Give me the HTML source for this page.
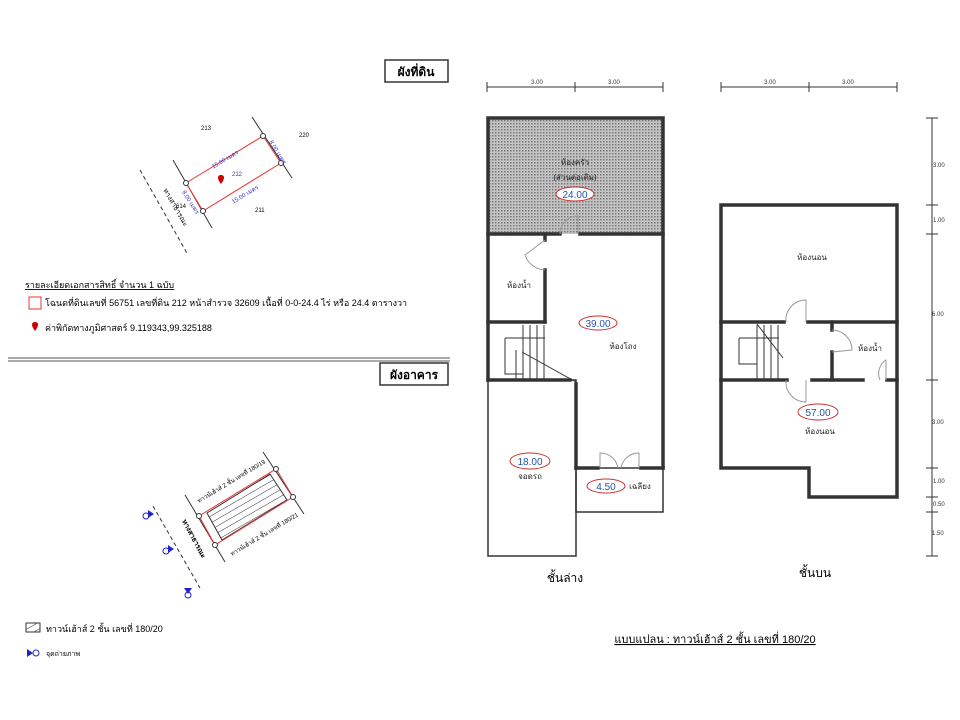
<!DOCTYPE html>
<html><head><meta charset="utf-8"><style>
body{margin:0;background:#fff}
svg{display:block;font-family:"Liberation Sans","Noto Sans CJK SC",sans-serif}
</style></head><body>
<svg width="960" height="720" viewBox="0 0 960 720" xmlns="http://www.w3.org/2000/svg">
<defs>
<pattern id="dots" width="3" height="3" patternUnits="userSpaceOnUse"><rect width="3" height="3" fill="#c4c4c4"/><rect width="1.5" height="1.5" fill="#777"/></pattern>
<pattern id="hatch" width="6" height="6" patternUnits="userSpaceOnUse" patternTransform="rotate(-30)"><line x1="0" y1="0" x2="6" y2="0" stroke="#333" stroke-width="1"/></pattern>
</defs>
<rect x="385" y="60" width="63" height="22" fill="#fff" stroke="#333" stroke-width="1.5"/>
<text x="416" y="76" font-size="12" font-weight="bold" text-anchor="middle">ผังที่ดิน</text>
<line x1="252" y1="117" x2="292" y2="178" stroke="#333"/>
<line x1="173" y1="160" x2="212" y2="228" stroke="#333"/>
<line x1="140" y1="170" x2="188" y2="255" stroke="#333" stroke-dasharray="4,3"/>
<polygon points="186,183 263,136 281,163 203,211" fill="none" stroke="#e33" stroke-width="1"/>
<g fill="#fff" stroke="#333"><circle cx="186" cy="183" r="2.5"/><circle cx="263" cy="136" r="2.5"/><circle cx="281" cy="163" r="2.5"/><circle cx="203" cy="211" r="2.5"/></g>
<g font-size="6" fill="#000"><text x="201" y="130">213</text><text x="299" y="137">220</text><text x="255" y="212">211</text><text x="176" y="208">614</text></g>
<text x="232" y="176" font-size="6" fill="#33c">212</text>
<text x="210" y="163" font-size="6" fill="#33c" transform="rotate(-31 222 160)">15.00 เมตร</text>
<text x="230" y="198" font-size="6" fill="#33c" transform="rotate(-31 242 195)">15.00 เมตร</text>
<text x="182" y="192" font-size="6" fill="#33c" transform="rotate(58 182 192)">8.00 เมตร</text>
<text x="269" y="142" font-size="6" fill="#33c" transform="rotate(58 269 142)">8.00 เมตร</text>
<text x="163" y="190" font-size="7" transform="rotate(60 163 190)">ทางสาธารณะ</text>
<path d="M221,184 c-4,-5 -4,-9 0,-9 c4,0 4,4 0,9z" fill="#c00"/>
<text x="25" y="288" font-size="9" text-decoration="underline">รายละเอียดเอกสารสิทธิ์ จำนวน 1 ฉบับ</text>
<rect x="29" y="297" width="12" height="12" fill="none" stroke="#e33"/>
<text x="45" y="306" font-size="9">โฉนดที่ดินเลขที่ 56751 เลขที่ดิน 212 หน้าสำรวจ 32609 เนื้อที่ 0-0-24.4 ไร่ หรือ 24.4 ตารางวา</text>
<path d="M35,331 c-4,-5 -4,-9 0,-9 c4,0 4,4 0,9z" fill="#c00"/>
<text x="45" y="331" font-size="9">ค่าพิกัดทางภูมิศาสตร์ 9.119343,99.325188</text>
<line x1="8" y1="358" x2="450" y2="358" stroke="#555" stroke-width="1"/>
<line x1="8" y1="361" x2="450" y2="361" stroke="#555" stroke-width="1"/>
<rect x="380" y="363" width="68" height="22" fill="#fff" stroke="#333" stroke-width="1.5"/>
<text x="414" y="379" font-size="12" font-weight="bold" text-anchor="middle">ผังอาคาร</text>
<line x1="185" y1="495" x2="225" y2="562" stroke="#333"/>
<line x1="263" y1="452" x2="304" y2="514" stroke="#333"/>
<line x1="153" y1="506" x2="200" y2="588" stroke="#333" stroke-dasharray="4,3"/>
<polygon points="207,513 270,474 287,500 222,540" fill="url(#hatch)" stroke="#333"/>
<polygon points="199,516 276,469 293,497 215,545" fill="none" stroke="#e33"/>
<g fill="#fff" stroke="#333"><circle cx="199" cy="516" r="2.5"/><circle cx="276" cy="469" r="2.5"/><circle cx="293" cy="497" r="2.5"/><circle cx="215" cy="545" r="2.5"/></g>
<text x="199" y="503" font-size="6" transform="rotate(-31 199 503)">ทาวน์เฮ้าส์ 2 ชั้น เลขที่ 180/19</text>
<text x="232" y="556" font-size="6" transform="rotate(-31 232 556)">ทาวน์เฮ้าส์ 2 ชั้น เลขที่ 180/21</text>
<text x="182" y="521" font-size="7" font-weight="bold" transform="rotate(62 182 521)">ทางสาธารณะ</text>
<g fill="#22c"><circle cx="146" cy="516" r="3" fill="none" stroke="#22c"/><path d="M148,510 l6,4 l-6,4z"/>
<circle cx="166" cy="551" r="3" fill="none" stroke="#22c"/><path d="M168,545 l6,4 l-6,4z"/>
<circle cx="188" cy="595" r="3" fill="none" stroke="#22c"/><path d="M184,588 l8,0 l-4,6z"/></g>
<rect x="26" y="623" width="14" height="9" fill="url(#hatch)" stroke="#333"/>
<text x="46" y="632" font-size="9">ทาวน์เฮ้าส์ 2 ชั้น เลขที่ 180/20</text>
<path d="M27,649 l6,4 l-6,4z" fill="#22c"/><circle cx="36" cy="653" r="3" fill="none" stroke="#22c"/>
<text x="46" y="656" font-size="7">จุดถ่ายภาพ</text>
<g stroke="#333" stroke-width="1">
<line x1="487" y1="87" x2="663" y2="87"/><line x1="487" y1="82" x2="487" y2="92"/><line x1="575" y1="82" x2="575" y2="92"/><line x1="663" y1="82" x2="663" y2="92"/>
<line x1="721" y1="87" x2="897" y2="87"/><line x1="721" y1="82" x2="721" y2="92"/><line x1="809" y1="82" x2="809" y2="92"/><line x1="897" y1="82" x2="897" y2="92"/>
<line x1="932" y1="118" x2="932" y2="556"/>
<line x1="926" y1="118" x2="938" y2="118"/><line x1="926" y1="205" x2="938" y2="205"/><line x1="926" y1="234" x2="938" y2="234"/><line x1="926" y1="380" x2="938" y2="380"/><line x1="926" y1="468" x2="938" y2="468"/><line x1="926" y1="497" x2="938" y2="497"/><line x1="926" y1="512" x2="938" y2="512"/><line x1="926" y1="556" x2="938" y2="556"/>
</g>
<g font-size="6" fill="#333" text-anchor="middle"><text x="537" y="84">3.00</text><text x="614" y="84">3.00</text><text x="770" y="84">3.00</text><text x="848" y="84">3.00</text></g>
<g font-size="6" fill="#333"><text x="933" y="167">3.00</text><text x="933" y="222">1.00</text><text x="932" y="316">6.00</text><text x="932" y="424">3.00</text><text x="933" y="483">1.00</text><text x="933" y="506">0.50</text><text x="932" y="535">1.50</text></g>
<rect x="488" y="118" width="175" height="116" fill="url(#dots)"/>
<g stroke="#333" stroke-width="1.5" fill="none">
<rect x="488" y="380" width="88" height="176"/>
<rect x="576" y="468" width="87" height="44"/>
</g>
<g stroke="#333" stroke-width="3.5" fill="none" stroke-linecap="square">
<path d="M488,380 L488,118 L663,118 L663,468"/>
<line x1="488" y1="234" x2="560" y2="234"/><line x1="580" y1="234" x2="663" y2="234"/>
<line x1="545" y1="234" x2="545" y2="240"/><line x1="545" y1="270" x2="545" y2="322"/>
<line x1="488" y1="322" x2="545" y2="322"/>
<line x1="488" y1="380" x2="570" y2="380"/>
<line x1="576" y1="384" x2="576" y2="468"/>
<line x1="576" y1="468" x2="598" y2="468"/><line x1="641" y1="468" x2="663" y2="468"/>
</g>
<g stroke="#999" stroke-width="1" fill="none">
<path d="M560,234 A18,18 0 0 1 578,216 L578,234"/>
<path d="M545,240 L525,255 A22,22 0 0 0 545,270"/>
<path d="M600,468 L600,453 A18,18 0 0 1 618,468"/><path d="M639,468 L639,453 A18,18 0 0 0 621,468"/>
</g>
<g stroke="#333" stroke-width="1" fill="none">
<path d="M523,325 v55 M530,325 v55 M537,325 v55 M544,325 v55 M516,350 v30"/>
<path d="M505,338 h40 M505,338 v36 h18"/>
<line x1="522" y1="352" x2="576" y2="382"/>
</g>
<g stroke="#333" stroke-width="3.5" fill="none" stroke-linecap="square">
<path d="M721,468 L721,205 L897,205 L897,497 L809,497 L809,468 L721,468"/>
<line x1="721" y1="322" x2="784" y2="322"/><line x1="808" y1="322" x2="897" y2="322"/>
<line x1="832" y1="322" x2="832" y2="330"/><line x1="832" y1="352" x2="832" y2="380"/>
<line x1="721" y1="380" x2="787" y2="380"/><line x1="812" y1="380" x2="863" y2="380"/><line x1="887" y1="380" x2="897" y2="380"/>
</g>
<g stroke="#999" stroke-width="1" fill="none">
<path d="M786,322 A20,20 0 0 1 806,300 L806,322"/>
<path d="M786,380 A20,20 0 0 0 806,402 L806,380"/>
<path d="M832,330 A20,20 0 0 1 852,350 L832,352"/>
<path d="M880,380 A16,16 0 0 1 886,360 L886,380"/>
</g>
<g stroke="#333" stroke-width="1" fill="none">
<path d="M757,325 v55 M764,325 v55 M771,325 v55 M778,325 v55"/>
<path d="M739,338 h40 M739,338 v26 h18"/>
<line x1="757" y1="324" x2="783" y2="358"/>
</g>
<g font-size="8" text-anchor="middle" fill="#222">
<text x="575" y="165">ห้องครัว</text><text x="575" y="180">(ส่วนต่อเติม)</text>
<text x="519" y="288">ห้องน้ำ</text><text x="623" y="349">ห้องโถง</text>
<text x="530" y="479">จอดรถ</text><text x="640" y="489">เฉลียง</text>
<text x="812" y="260">ห้องนอน</text><text x="870" y="351">ห้องน้ำ</text><text x="820" y="434">ห้องนอน</text>
</g>
<g fill="#fff" stroke="#c33" stroke-width="1">
<ellipse cx="575" cy="194" rx="19" ry="7"/><ellipse cx="598" cy="323" rx="19" ry="7"/>
<ellipse cx="530" cy="461" rx="20" ry="8"/><ellipse cx="606" cy="486" rx="19" ry="7"/>
<ellipse cx="818" cy="412" rx="20" ry="8"/>
</g>
<g font-size="10" fill="#2255aa" text-anchor="middle">
<text x="575" y="198">24.00</text><text x="598" y="327">39.00</text><text x="530" y="465">18.00</text><text x="606" y="490">4.50</text><text x="818" y="416">57.00</text>
</g>
<text x="565" y="582" font-size="12" text-anchor="middle">ชั้นล่าง</text>
<text x="815" y="577" font-size="12" text-anchor="middle">ชั้นบน</text>
<text x="715" y="643" font-size="11" text-anchor="middle" text-decoration="underline">แบบแปลน : ทาวน์เฮ้าส์ 2 ชั้น เลขที่ 180/20</text>
</svg>
</body></html>
